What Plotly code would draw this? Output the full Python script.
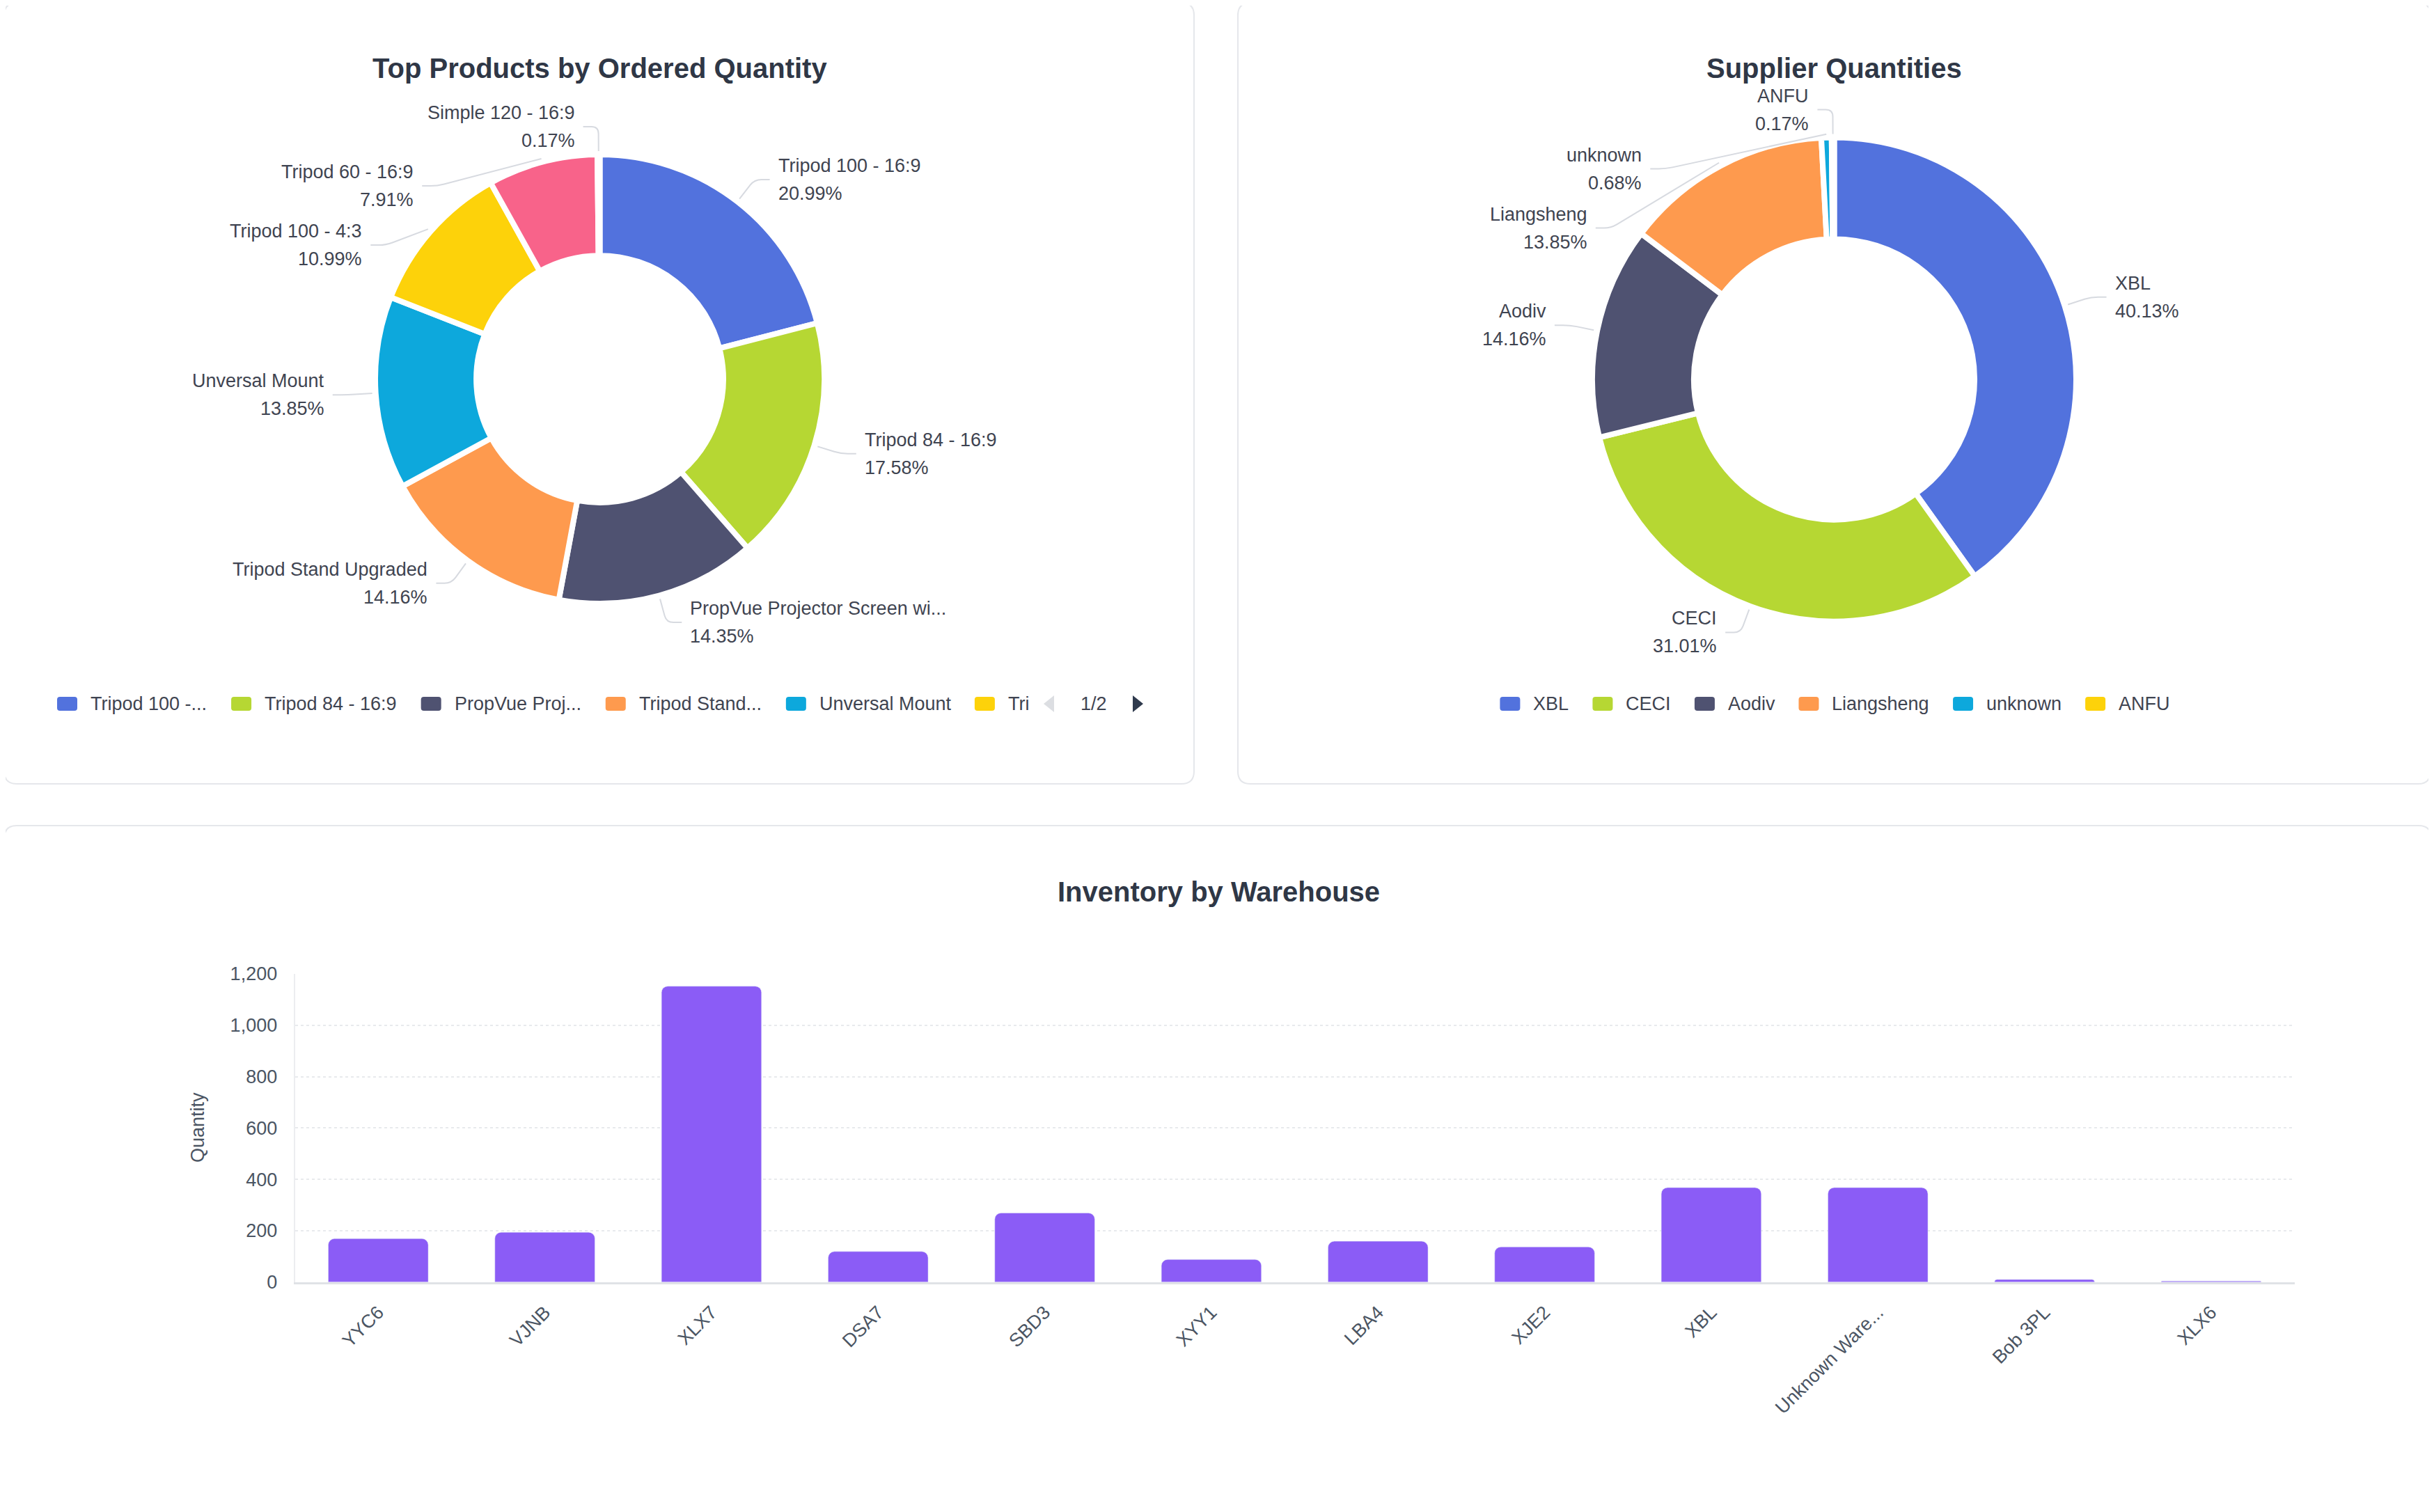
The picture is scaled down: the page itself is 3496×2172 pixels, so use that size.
import math
import plotly.graph_objects as go

# page size (body margin of 8px around the plot)
W, H = 3480, 2156
OFF = 8

# ---- data ----
product_labels = ["Tripod 100 - 16:9", "Tripod 84 - 16:9", "PropVue Projector Screen wi...",
                  "Tripod Stand Upgraded", "Unversal Mount", "Tripod 100 - 4:3",
                  "Tripod 60 - 16:9", "Simple 120 - 16:9"]
product_share = [20.99, 17.58, 14.35, 14.16, 13.85, 10.99, 7.91, 0.17]
product_legend = ["Tripod 100 -...", "Tripod 84 - 16:9", "PropVue Proj...",
                  "Tripod Stand...", "Unversal Mount", "Tri"]
legend_page = "1/2"

supplier_labels = ["XBL", "CECI", "Aodiv", "Liangsheng", "unknown", "ANFU"]
supplier_share = [40.13, 31.01, 14.16, 13.85, 0.68, 0.17]

warehouses = ["YYC6", "VJNB", "XLX7", "DSA7", "SBD3", "XYY1", "LBA4", "XJE2",
              "XBL", "Unknown Ware...", "Bob 3PL", "XLX6"]
warehouse_qty = [169, 194, 1152, 119, 269, 88, 159, 137, 368, 368, 10, 4]

palette = ["#5272DD", "#B6D733", "#4F5271", "#FE9A4E", "#0DA8DC", "#FDD20A", "#F8638A", "#8B5CF6"]

TITLE_COLOR = "#2F3746"
TEXT_COLOR = "#3F4451"
AXIS_COLOR = "#4B5563"
LINE_GRAY = "#D7DAE0"
CARD_BORDER = "#E5E7EB"
FONT = "Liberation Sans, Arial, Helvetica, sans-serif"


def fx(x):
    return (x - OFF) / W


def fy(y):
    return 1 - (y - OFF) / H


CHAR_W = {" ": 278, "-": 333, ".": 278, ":": 278, "/": 278,
          "A": 667, "B": 667, "C": 722, "D": 722, "E": 667, "F": 611, "G": 778, "H": 722,
          "I": 278, "J": 500, "K": 667, "L": 556, "M": 833, "N": 722, "O": 778, "P": 667,
          "Q": 778, "R": 722, "S": 667, "T": 611, "U": 722, "V": 667, "W": 944, "X": 667,
          "Y": 667, "Z": 611, "a": 556, "b": 556, "c": 500, "d": 556, "e": 556, "f": 278,
          "g": 556, "h": 556, "i": 222, "j": 222, "k": 500, "l": 222, "m": 833, "n": 556,
          "o": 556, "p": 556, "q": 556, "r": 333, "s": 500, "t": 278, "u": 556, "v": 500,
          "w": 722, "x": 500, "y": 500, "z": 500}


def text_width(s, size):
    return sum(CHAR_W.get(ch, 556) for ch in s) * size / 1000


def rounded_rect(x0, y0, x1, y1, r, open_bottom=False):
    # path in paper coords from pixel box
    if open_bottom:
        pts = [
            f"M {fx(x0)},{fy(y1)}",
            f"L {fx(x0)},{fy(y0 + r)}",
            f"Q {fx(x0)},{fy(y0)} {fx(x0 + r)},{fy(y0)}",
            f"L {fx(x1 - r)},{fy(y0)}",
            f"Q {fx(x1)},{fy(y0)} {fx(x1)},{fy(y0 + r)}",
            f"L {fx(x1)},{fy(y1)}",
        ]
        return " ".join(pts)
    pts = [
        f"M {fx(x0 + r)},{fy(y0)}",
        f"L {fx(x1 - r)},{fy(y0)}",
        f"Q {fx(x1)},{fy(y0)} {fx(x1)},{fy(y0 + r)}",
        f"L {fx(x1)},{fy(y1 - r)}",
        f"Q {fx(x1)},{fy(y1)} {fx(x1 - r)},{fy(y1)}",
        f"L {fx(x0 + r)},{fy(y1)}",
        f"Q {fx(x0)},{fy(y1)} {fx(x0)},{fy(y1 - r)}",
        f"L {fx(x0)},{fy(y0 + r)}",
        f"Q {fx(x0)},{fy(y0)} {fx(x0 + r)},{fy(y0)}",
        "Z",
    ]
    return " ".join(pts)


fig = go.Figure()
shapes = []
annotations = []

# ---- cards (bottom one runs past the window) ----
for box in [(6, 4, 1715, 1126), (1778, 4, 3491, 1126)]:
    shapes.append(dict(type="path", path=rounded_rect(*box, 18), xref="paper", yref="paper",
                       line=dict(color=CARD_BORDER, width=2), fillcolor="white", layer="below"))
shapes.append(dict(type="path", path=rounded_rect(6, 1186, 3492, 2172, 18, open_bottom=True),
                   xref="paper", yref="paper", line=dict(color=CARD_BORDER, width=2), layer="below"))


def add_title(text, x, y):
    annotations.append(dict(text=text, x=fx(x), y=fy(y), xref="paper", yref="paper",
                            showarrow=False, xanchor="center", yanchor="middle",
                            font=dict(size=40, color=TITLE_COLOR, family=FONT, weight="bold")))


add_title("Top Products by Ordered Quantity", 861, 98)
add_title("Supplier Quantities", 2634, 98)
add_title("Inventory by Warehouse", 1750, 1281)


# ---- donuts ----
def add_donut(labels, values, colors, cx, cy, R, hole):
    fig.add_trace(go.Pie(
        labels=labels, values=values, hole=hole, sort=False, direction="clockwise",
        rotation=0, textinfo="none", showlegend=False,
        marker=dict(colors=colors, line=dict(color="white", width=8)),
        domain=dict(x=[fx(cx - R), fx(cx + R)], y=[fy(cy + R), fy(cy - R)]),
        hovertemplate="%{label}: %{percent}<extra></extra>",
    ))

    # ECharts-like outside labels with leader lines
    L1, L2, GAP, SPACING = 40, 22, 10, 85
    total = sum(values)
    items = []
    cum = 0
    for name, v in zip(labels, values):
        mid = (cum + v / 2) / total * 2 * math.pi
        cum += v
        sx, sy = math.sin(mid), -math.cos(mid)
        side = 1 if sx >= 0 else -1
        items.append(dict(name=name, pct=f"{v / total * 100:.2f}%", sx=sx, sy=sy, side=side,
                          x=cx + (R + L1) * sx, y=cy + (R + L1) * sy))
    for side in (1, -1):
        grp = sorted([it for it in items if it["side"] == side], key=lambda it: it["y"])
        for prev, cur in zip(grp, grp[1:]):
            if cur["y"] < prev["y"] + SPACING:
                cur["y"] = prev["y"] + SPACING
                dy = cur["y"] - cy
                r1 = R + L1
                if abs(dy) < r1:
                    cur["x"] = cx + side * math.sqrt(r1 ** 2 - dy ** 2)
    for it in items:
        side = it["side"]
        p0 = (cx + (R + 5) * it["sx"], cy + (R + 5) * it["sy"])
        p1 = (it["x"], it["y"])
        p2 = (p1[0] + side * L2, p1[1])
        seg = math.hypot(p1[0] - p0[0], p1[1] - p0[1])
        rc = min(10, seg / 2)
        if seg > 0:
            a = (p1[0] - (p1[0] - p0[0]) / seg * rc, p1[1] - (p1[1] - p0[1]) / seg * rc)
        else:
            a = p1
        b = (p1[0] + side * rc, p1[1])
        path = (f"M {fx(p0[0])},{fy(p0[1])} L {fx(a[0])},{fy(a[1])} "
                f"Q {fx(p1[0])},{fy(p1[1])} {fx(b[0])},{fy(b[1])} L {fx(p2[0])},{fy(p2[1])}")
        shapes.append(dict(type="path", path=path, xref="paper", yref="paper",
                           line=dict(color=LINE_GRAY, width=2)))
        tx = p2[0] + side * GAP
        anchor = "left" if side > 0 else "right"
        for txt, off in ((it["name"], -20), (it["pct"], 20)):
            annotations.append(dict(text=txt, x=fx(tx), y=fy(p1[1] + off), xref="paper", yref="paper",
                                    showarrow=False, xanchor=anchor, yanchor="middle",
                                    font=dict(size=27, color=TEXT_COLOR, family=FONT)))


add_donut(product_labels, product_share, palette[:len(product_labels)], 861.5, 544.5, 322.5, 0.55)
add_donut(supplier_labels, supplier_share, palette[:len(supplier_labels)], 2634.5, 545, 347.5, 0.58)


# ---- legends ----
SQ_W, SQ_H, SQ_GAP, ITEM_GAP, LEG_FS = 29, 20, 17, 36, 27


def draw_legend(names, colors, x0, yc):
    x = x0
    for name, col in zip(names, colors):
        shapes.append(dict(type="path", path=rounded_rect(x, yc - SQ_H / 2, x + SQ_W, yc + SQ_H / 2, 4),
                           xref="paper", yref="paper", fillcolor=col, line=dict(width=0)))
        annotations.append(dict(text=name, x=fx(x + SQ_W + SQ_GAP), y=fy(yc), xref="paper", yref="paper",
                                showarrow=False, xanchor="left", yanchor="middle",
                                font=dict(size=LEG_FS, color=TEXT_COLOR, family=FONT)))
        x += SQ_W + SQ_GAP + text_width(name, LEG_FS) + ITEM_GAP


def legend_width(names):
    return sum(SQ_W + SQ_GAP + text_width(n, LEG_FS) + ITEM_GAP for n in names) - ITEM_GAP


draw_legend(product_legend, palette, 82, 1011)
draw_legend(supplier_labels, palette, 2634.5 - legend_width(supplier_labels) / 2, 1011)

# pager of the left legend
pr = 1642
shapes.append(dict(type="path", xref="paper", yref="paper", fillcolor="#DCDEE2", line=dict(width=0),
                   path=f"M {fx(pr - 143)},{fy(1011)} L {fx(pr - 128)},{fy(999)} L {fx(pr - 128)},{fy(1023)} Z"))
shapes.append(dict(type="path", xref="paper", yref="paper", fillcolor="#2F3A4D", line=dict(width=0),
                   path=f"M {fx(pr)},{fy(1011)} L {fx(pr - 15)},{fy(999)} L {fx(pr - 15)},{fy(1023)} Z"))
annotations.append(dict(text=legend_page, x=fx(pr - 71), y=fy(1011), xref="paper", yref="paper",
                        showarrow=False, xanchor="center", yanchor="middle",
                        font=dict(size=LEG_FS, color=TEXT_COLOR, family=FONT)))

# ---- bar chart ----
fig.add_trace(go.Bar(
    x=warehouses, y=warehouse_qty, marker_color="#8B5CF6", showlegend=False,
    hovertemplate="%{x}: %{y}<extra></extra>",
))

annotations.append(dict(text="Quantity", x=fx(284), y=fy(1620), xref="paper", yref="paper",
                        showarrow=False, textangle=-90, xanchor="center", yanchor="middle",
                        font=dict(size=27, color=AXIS_COLOR, family=FONT)))

fig.update_layout(
    width=W, height=H,
    margin=dict(l=0, r=0, t=0, b=0, autoexpand=False),
    paper_bgcolor="white", plot_bgcolor="white",
    font=dict(family=FONT, color=AXIS_COLOR),
    bargap=0.4, barcornerradius=9,
    shapes=shapes, annotations=annotations,
    xaxis=dict(
        domain=[fx(423.6), fx(3295.6)], showgrid=False, showline=True, automargin=False,
        linecolor="#E0E2E6", linewidth=3, tickangle=-45, ticks="",
        tickfont=dict(size=27, color=AXIS_COLOR), ticklabelstandoff=14,
        fixedrange=True,
    ),
    yaxis=dict(
        domain=[fy(1841.7), fy(1399)], range=[0, 1200], dtick=200, tickformat=",",
        showgrid=True, gridcolor="#E8EAED", gridwidth=2, griddash="4px,4px", automargin=False,
        zeroline=False, showline=True, linecolor="#ECEDF0", linewidth=2, ticks="",
        tickfont=dict(size=27, color=AXIS_COLOR), ticklabelstandoff=18,
        fixedrange=True,
    ),
)

fig.write_html("out.html")
